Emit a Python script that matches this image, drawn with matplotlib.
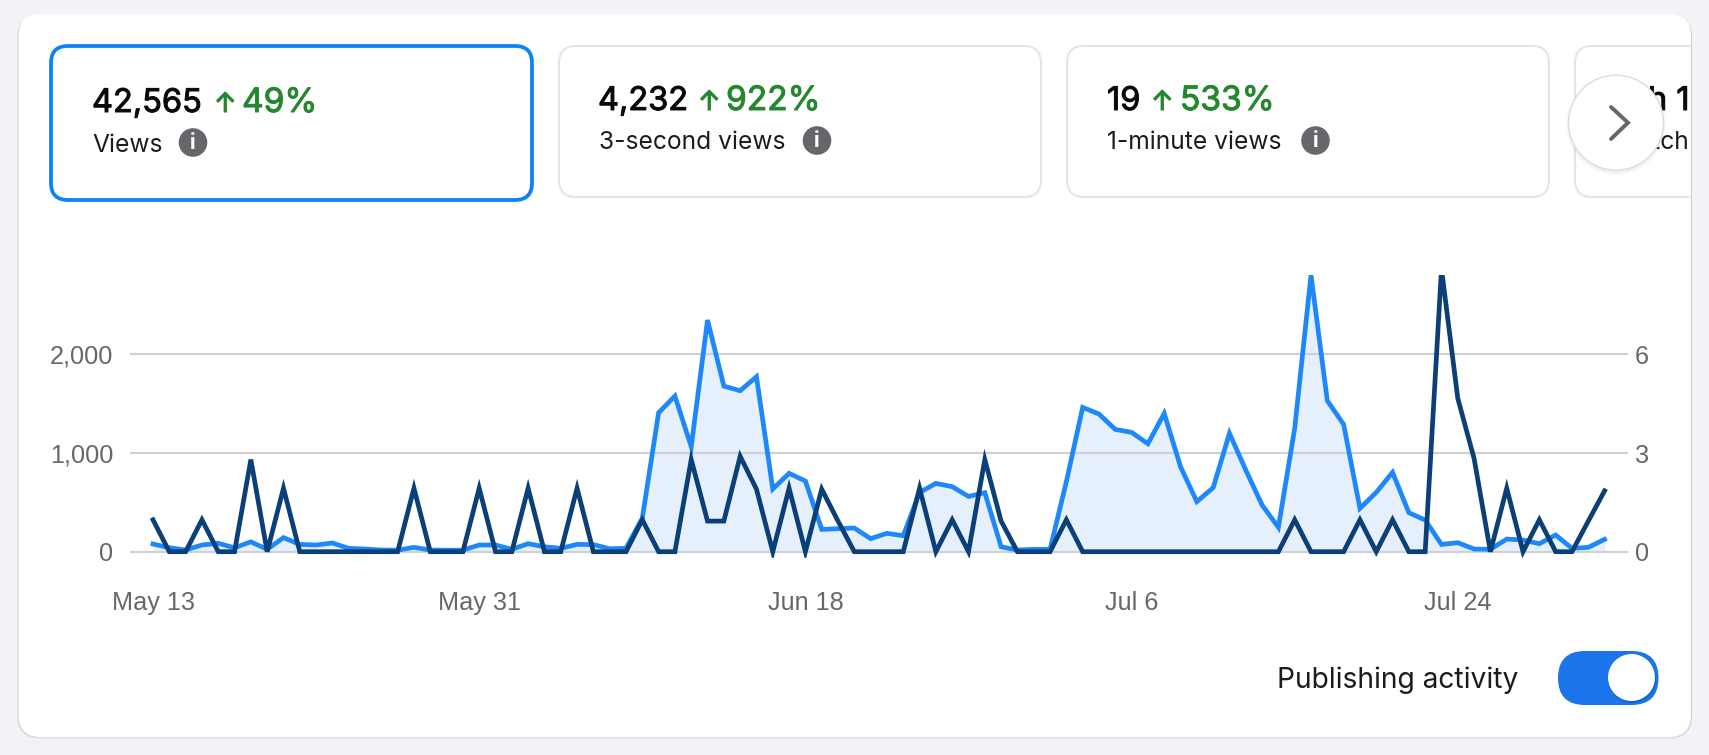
import matplotlib
matplotlib.use("Agg")
import matplotlib.pyplot as plt
import matplotlib.patheffects as pe
from matplotlib.patches import FancyBboxPatch, Circle, Rectangle
from matplotlib.ticker import FuncFormatter

W, H = 1709, 755

views = [78, 40, 17, 68, 85, 40, 100, 24, 142, 74, 68, 88, 34, 27, 17, 15, 44, 17, 15, 15,
         68, 68, 24, 81, 50, 34, 74, 72, 30, 34, 340, 1408, 1577, 1064, 2347, 1678, 1631, 1773, 635, 794,
         716, 226, 233, 240, 132, 186, 162, 600, 692, 659, 560, 598, 50, 17, 24, 24, 709, 1462, 1395, 1239,
         1209, 1094, 1401, 861, 507, 648, 1199, 827, 473, 247, 1250, 2803, 1530, 1290, 439, 601, 804, 395, 321, 74,
         91, 27, 24, 128, 118, 81, 169, 34, 44, 125]
posts = [0.97, 0, 0, 0.97, 0, 0, 2.8, 0, 1.93, 0, 0, 0, 0, 0, 0, 0, 1.93, 0, 0, 0,
         1.93, 0, 0, 1.93, 0, 0, 1.93, 0, 0, 0, 0.97, 0, 0, 2.8, 0.93, 0.93, 2.9, 1.9, 0, 1.93,
         0, 1.9, 0.93, 0, 0, 0, 0, 1.93, 0, 0.97, 0, 2.8, 0.93, 0, 0, 0, 0.97, 0, 0, 0,
         0, 0, 0, 0, 0, 0, 0, 0, 0, 0, 0.97, 0, 0, 0, 0.97, 0, 0.97, 0, 0, 8.6,
         4.66, 2.83, 0, 1.93, 0, 0.97, 0, 0, 0.93, 1.85]
days = list(range(len(views)))
tick_positions = [0, 20, 40, 60, 80]
tick_labels = ["May 13", "May 31", "Jun 18", "Jul 6", "Jul 24"]
left_ticks = [0, 1000, 2000]
right_ticks = [0, 3, 6]

cards = [("42,565", "49%", "Views"),
         ("4,232", "922%", "3-second views"),
         ("19", "533%", "1-minute views")]
toggle_label = "Publishing activity"

BG = "#F1F3F7"
BLUE = "#1E88FA"
NAVY = "#0B3F78"
FILL = "#E6F0FD"
GRID = "#CED0D6"
GREY = "#65676B"
GREEN = "#24882F"
UI = ["Inter", "DejaVu Sans"]
AXF = "Liberation Sans"

fig = plt.figure(figsize=(W / 100, H / 100), dpi=100, facecolor=BG)

# ---- page furniture, in pixel coordinates
bg = fig.add_axes([0, 0, 1, 1], zorder=0)
bg.set_xlim(0, W)
bg.set_ylim(H, 0)
bg.axis("off")


def rrect(ax, x0, y0, x1, y1, r, **kw):
    p = FancyBboxPatch((x0 + r, y0 + r), x1 - x0 - 2 * r, y1 - y0 - 2 * r,
                       boxstyle=f"round,pad={r},rounding_size={r}", **kw)
    ax.add_patch(p)
    return p


def txt(x, y, s, px, color="#111111", heavy=0.0, ha="left", ax=bg, zorder=5):
    t = ax.text(x, y, s, fontsize=px * 0.72, color=color, ha=ha,
                va="baseline", family=UI, zorder=zorder)
    if heavy:
        t.set_path_effects([pe.withStroke(linewidth=heavy, foreground=color)])
    return t


for i, a in enumerate([0.03, 0.05, 0.08]):
    rrect(bg, 18.5 - 1, 14 + 1, 1691 + 1, 737 + 2 - i, 22, fc="#000000", ec="none", alpha=a, zorder=1)
panel = rrect(bg, 18.5, 14, 1691, 737, 22, fc="white", ec="none", zorder=2)

rrect(bg, 51, 46, 532, 200, 17, fc="white", ec="#0A84F5", lw=2.7, zorder=3)
rrect(bg, 559, 46, 1041, 197, 17, fc="white", ec="#E4E5E8", lw=1.5, zorder=3)
rrect(bg, 1067, 46, 1549, 197, 17, fc="white", ec="#E4E5E8", lw=1.5, zorder=3)
c4 = rrect(bg, 1575, 46, 1760, 197, 17, fc="white", ec="#E4E5E8", lw=1.5, zorder=3)
c4.set_clip_path(Rectangle((0, 0), 1691, H, transform=bg.transData))

layouts = [
    dict(x=92, lx=92, y1=112, arrow=214, pct=242, y2=152, ix=193, iy=142.5),
    dict(x=598, lx=599, y1=110, arrow=698, pct=726, y2=149, ix=817, iy=140.5),
    dict(x=1107, lx=1107, y1=110, arrow=1151, pct=1180, y2=149, ix=1315.5, iy=140.5),
]
for (num, pct, label), L in zip(cards, layouts):
    txt(L["x"], L["y1"], num, 32.5, color="#0A0A0A", heavy=0.7)
    txt(L["arrow"], L["y1"], "↑", 27, color=GREEN, heavy=0.8)
    txt(L["pct"], L["y1"], pct, 33.5, color=GREEN, heavy=0.7)
    txt(L["lx"], L["y2"], label, 24.6, color="#1C1C1C")
    bg.add_patch(Circle((L["ix"], L["iy"]), 14.3, fc=GREY, ec="none", zorder=5))
    bg.text(L["ix"], L["iy"] + 0.5, "i", color="white", fontsize=15, fontweight="bold",
            ha="center", va="center", family=UI, zorder=6)

# fourth card, cut off by the panel edge and hidden by the button
t1 = txt(1648, 110, "h 1", 32.5, color="#0A0A0A", heavy=0.7)
t2 = txt(1689, 149, "Watch", 24.6, color="#1C1C1C", ha="right")
for t in (t1, t2):
    t.set_clip_path(Rectangle((0, 0), 1691, H, transform=bg.transData))

# scroll button
for r, a in [(50, 0.02), (48.5, 0.03)]:
    bg.add_patch(Circle((1616, 125), r, fc="black", ec="none", alpha=a, zorder=7))
bg.add_patch(Circle((1616, 122.7), 47.5, fc="white", ec="#DADBDE", lw=1, zorder=8))
bg.plot([1611, 1628, 1611], [107, 122.7, 139], color=GREY, lw=2.8, zorder=9,
        solid_capstyle="round", solid_joinstyle="miter")

# toggle
txt(1277, 688, toggle_label, 28.2, color="#1C1C1C")
rrect(bg, 1558, 651, 1658.5, 705, 27, fc="#1B74EC", ec="none", zorder=5)
bg.add_patch(Circle((1632, 679), 24, fc="#0F4FA8", ec="none", alpha=0.5, zorder=5.5))
bg.add_patch(Circle((1631.5, 677.5), 23.5, fc="white", ec="none", zorder=6))

# ---- the chart
ax_l, ax_r, ax_t, ax_b = 130, 1628, 275, 558
y0_px, per1000 = 551.7, 98.7
ax = fig.add_axes([ax_l / W, 1 - ax_b / H, (ax_r - ax_l) / W, (ax_b - ax_t) / H], zorder=1)
ax.patch.set_alpha(0)
x0_px, step = 153.0, 16.31
ax.set_xlim((ax_l - x0_px) / step, (ax_r - x0_px) / step)
ax.set_ylim(-(ax_b - y0_px) / per1000 * 1000, (y0_px - ax_t) / per1000 * 1000)

ax.fill_between(days, views, 0, color=FILL, lw=0, zorder=1)
ax.set_axisbelow(False)
ax.yaxis.grid(True, color=GRID, lw=1.5, zorder=2)
ax.xaxis.grid(False)
for g in ax.get_ygridlines():
    g.set_zorder(2)
ax.plot(days, views, color=BLUE, lw=3.4, solid_joinstyle="miter", zorder=3)

ax.set_yticks(left_ticks)
ax.yaxis.set_major_formatter(FuncFormatter(lambda v, _: f"{int(v):,}"))
ax.set_xticks(tick_positions)
ax.set_xticklabels(tick_labels)
for s in ax.spines.values():
    s.set_visible(False)
ax.tick_params(axis="both", length=0, labelcolor=GREY, labelsize=18.2)
ax.tick_params(axis="x", pad=24)
ax.tick_params(axis="y", pad=12)
for lab in ax.get_xticklabels() + ax.get_yticklabels():
    lab.set_family(AXF)

tw = ax.twinx()
tw.patch.set_alpha(0)
per_unit = 32.9
tw.set_ylim(-(ax_b - y0_px) / per_unit, (y0_px - ax_t) / per_unit)
tw.plot(days, posts, color=NAVY, lw=3.4, solid_joinstyle="miter", zorder=4)
tw.set_yticks(right_ticks)
for s in tw.spines.values():
    s.set_visible(False)
tw.tick_params(axis="y", length=0, labelcolor=GREY, labelsize=18.2, pad=5)
for lab in tw.get_yticklabels():
    lab.set_family(AXF)

fig.savefig("out.png", dpi=100, facecolor=BG)
